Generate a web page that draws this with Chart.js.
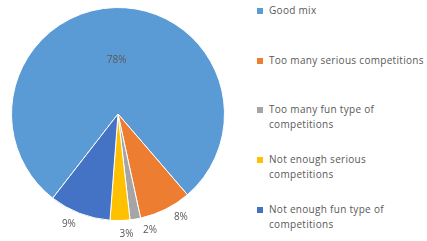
<!DOCTYPE html>
<html>
<head>
<meta charset="utf-8">
<script src="https://cdn.jsdelivr.net/npm/chart.js@4.4.1/dist/chart.umd.min.js"></script>
<style>
    html, body { margin: 0; padding: 0; background: #fff; }
    #wrap { position: relative; width: 427px; height: 241px; overflow: hidden; }
    #pieBox { position: absolute; left: 0; top: 0; width: 236px; height: 241px; }
    #legend { position: absolute; left: 257px; top: 0; font-family: "Open Sans", sans-serif; font-size: 10px; letter-spacing: 0.3px; color: #595959; }
    .item { position: absolute; left: 0; white-space: nowrap; line-height: 15px; }
    .box { position: absolute; left: 0; top: 5px; width: 6px; height: 6px; }
    .txt { position: absolute; left: 12px; top: 0; }
</style>
</head>
<body>
<div id="wrap">
    <div id="pieBox"><canvas id="pieChart"></canvas></div>
    <div id="legend"></div>
</div>
<script>
// categories (legend lines), shares in %, slice colours
const categories = [
    ['Good mix'],
    ['Too many serious competitions'],
    ['Too many fun type of', 'competitions'],
    ['Not enough serious', 'competitions'],
    ['Not enough fun type of', 'competitions']
];
const shares = [78.2, 7.9, 1.6, 3.0, 9.3];
const colors = ['#5B9BD5', '#ED7D31', '#A5A5A5', '#FFC000', '#4472C4'];

const total = shares.reduce((a, b) => a + b, 0);

// percent labels: big slice inside, small ones just outside the rim
// nudge = small angle shift (deg) so the outside labels don't crowd
const pctLabels = {
    id: 'pctLabels',
    afterDatasetsDraw(chart, args, opts) {
        const ctx = chart.ctx;
        const arcs = chart.getDatasetMeta(0).data;
        ctx.save();
        ctx.font = '10px "Open Sans", sans-serif';
        ctx.fillStyle = '#595959';
        ctx.textAlign = 'center';
        ctx.textBaseline = 'middle';
        arcs.forEach((arc, i) => {
            const p = arc.getProps(['x', 'y', 'startAngle', 'endAngle', 'outerRadius'], true);
            const mid = (p.startAngle + p.endAngle) / 2 + (opts.nudge[i] || 0) * Math.PI / 180;
            const share = shares[i] / total;
            const d = share > 0.5 ? p.outerRadius * 0.51 : p.outerRadius + 14;
            const x = p.x + Math.cos(mid) * d;
            const y = p.y + Math.sin(mid) * d;
            ctx.fillText(Math.round(share * 100) + '%', x, y);
        });
        ctx.restore();
    }
};

new Chart(document.getElementById('pieChart'), {
    type: 'pie',
    data: {
        labels: categories.map(c => c.join(' ')),
        datasets: [{
            data: shares,
            backgroundColor: colors,
            borderColor: '#ffffff',
            borderWidth: 1
        }]
    },
    options: {
        responsive: true,
        maintainAspectRatio: false,
        animation: false,
        rotation: 217.8,
        layout: { padding: { left: 11, right: 11, top: 7, bottom: 20 } },
        plugins: {
            legend: { display: false },
            tooltip: { enabled: false },
            pctLabels: { nudge: [0, -5, -6, -3, 3] }
        }
    },
    plugins: [pctLabels]
});

// legend on the right
const legend = document.getElementById('legend');
const legendTops = [3, 53, 102, 152, 202];
categories.forEach((lines, i) => {
    const item = document.createElement('div');
    item.className = 'item';
    item.style.top = legendTops[i] + 'px';
    item.innerHTML = `<span class="box" style="background:${colors[i]}"></span><span class="txt">${lines.join('<br>')}</span>`;
    legend.appendChild(item);
});
</script>
</body>
</html>
